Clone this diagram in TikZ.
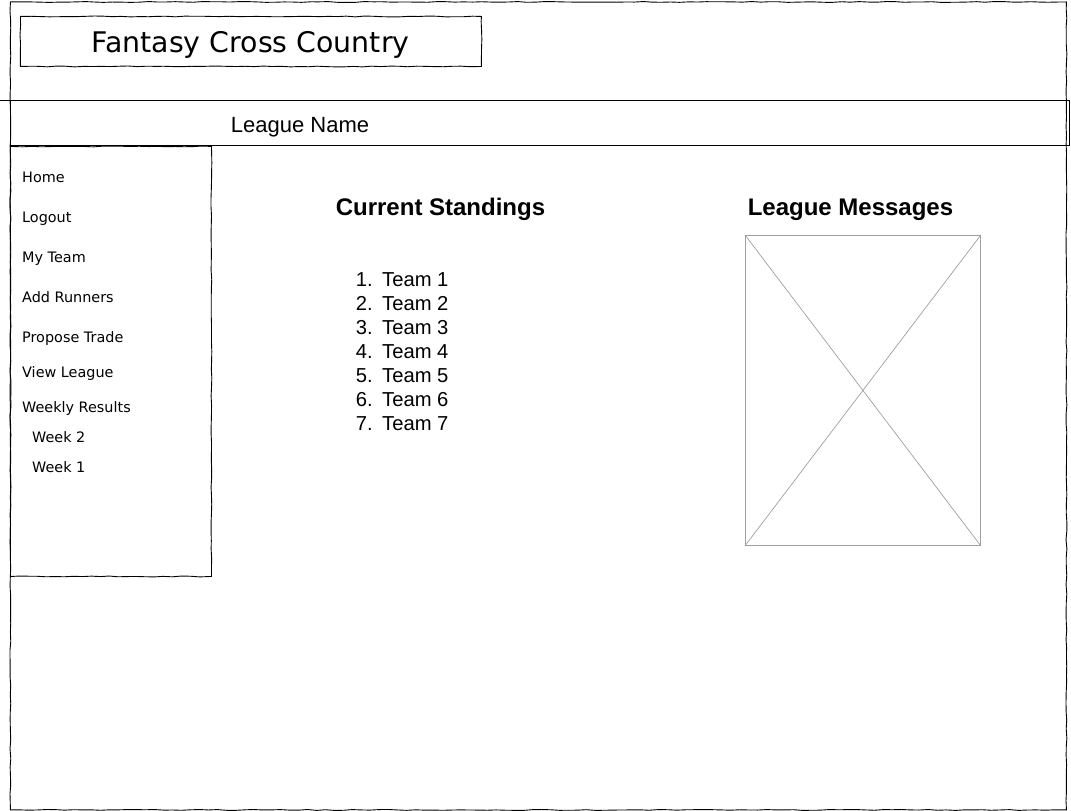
\documentclass[tikz,border=0pt]{standalone}
\usepackage{fontspec}
\setmainfont{Liberation Sans}
\newfontfamily\verdana{DejaVu Sans}
\usetikzlibrary{decorations.pathmorphing,positioning}

\tikzset{
  sketch/.style={draw=black, line width=0.9pt, decorate,
    decoration={random steps, segment length=9pt, amplitude=0.45pt}},
  menuitem/.style={anchor=base west, inner sep=0pt, font=\verdana\fontsize{14.4}{16}\selectfont},
  heading/.style={anchor=base, inner sep=0pt, font=\bfseries\fontsize{24}{28}\selectfont},
  teamitem/.style={inner sep=0pt, font=\fontsize{20.2}{24}\selectfont},
}

\begin{document}
\begin{tikzpicture}[x=1pt,y=-1pt]
    \pgfmathsetseed{7}
    \useasboundingbox (0,0) rectangle (1071,811);

    % page frame
    \node[sketch, anchor=north west, minimum width=1056pt, minimum height=808pt] (page) at (10,1.5) {};

    % header with title
    \node[sketch, anchor=north west, minimum width=461pt, minimum height=50pt] (titlebox) at (20,16) {};
    \node[anchor=base, inner sep=0pt, font=\verdana\fontsize{28.4}{32}\selectfont] (title) at (250.5,52) {Fantasy Cross Country};

    % league bar
    \node[draw, line width=0.9pt, anchor=north west, minimum width=1059pt, minimum height=45pt] (leaguebar) at (10,100) {};
    \coordinate (barstub) at (0,100);
    \draw[line width=0.9pt] (barstub) -- (leaguebar.north west);
    \node[anchor=base, inner sep=0pt, font=\fontsize{22}{26}\selectfont] (leaguename) at (300,132) {League Name};

    % side menu
    \node[sketch, anchor=north west, minimum width=201pt, minimum height=430pt] (sidebar) at (10,146) {};
    \foreach \x/\y/\item [count=\i] in {22/182/Home, 22/222/Logout, 22/262/My Team,
        22/302/Add Runners, 22/342/Propose Trade, 22/377/View League,
        22/412/Weekly Results, 32/442/Week 2, 32/472/Week 1}
    \node[menuitem] (menu\i) at (\x,\y) {\item};

    % standings
    \node[heading] (standings) at (440.5,215) {Current Standings};
    \foreach \i in {1,...,7} {
      \node[teamitem, anchor=base east] (num\i) at (373,{262+24*\i}) {\i.};
      \node[teamitem, anchor=base west] (team\i) at (382,{262+24*\i}) {Team \i};
    }

    % messages
    \node[heading] (messages) at (850.5,215) {League Messages};
    \node[draw=gray!75, line width=0.8pt, anchor=north west, minimum width=235pt, minimum height=310pt] (msgbox) at (745,235) {};
    \draw[gray!75, line width=0.7pt] (msgbox.north west) -- (msgbox.south east);
    \draw[gray!75, line width=0.7pt] (msgbox.south west) -- (msgbox.north east);
\end{tikzpicture}
\end{document}
